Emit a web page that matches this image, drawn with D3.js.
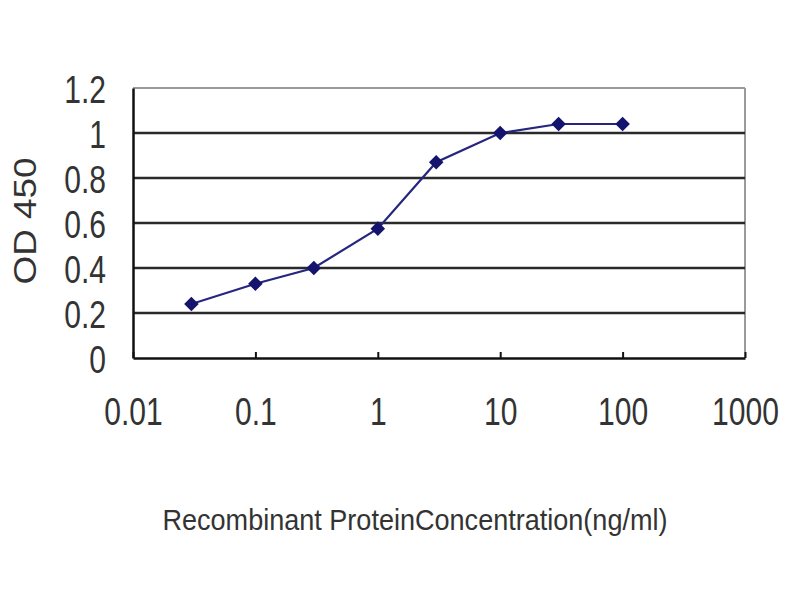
<!DOCTYPE html>
<html><head><meta charset="utf-8">
<script src="https://cdn.jsdelivr.net/npm/d3@7"></script>
<style>html,body{margin:0;padding:0;background:#fff;}</style>
</head><body>
<svg id="chart" width="800" height="600"></svg>
<script>
const concentrations = [0.03, 0.1, 0.3, 1, 3, 10, 30, 100];
const od450 = [0.24, 0.33, 0.40, 0.575, 0.87, 1.00, 1.04, 1.04];
const xTickValues = [0.01, 0.1, 1, 10, 100, 1000];
const xTickLabels = ["0.01", "0.1", "1", "10", "100", "1000"];
const yTickValues = [0, 0.2, 0.4, 0.6, 0.8, 1, 1.2];
const yTickLabels = ["0", "0.2", "0.4", "0.6", "0.8", "1", "1.2"];
const xTitle = "Recombinant ProteinConcentration(ng/ml)";
const yTitle = "OD 450";

const svg = d3.select("#chart");
const L = 133, R = 745, T = 88, B = 358;
const x = d3.scaleLog().domain([0.01, 1000]).range([L, R]);
const y = d3.scaleLinear().domain([0, 1.2]).range([B, T]);
const font = "'Liberation Sans',Arial,sans-serif";
const squeeze = 0.77;

// plot border (light) top/right
svg.append("line").attr("x1", L).attr("x2", R).attr("y1", T).attr("y2", T)
  .attr("stroke", "#9a9a9a").attr("stroke-width", 2);
svg.append("line").attr("x1", R).attr("x2", R).attr("y1", T).attr("y2", B)
  .attr("stroke", "#9a9a9a").attr("stroke-width", 2);

// gridlines
svg.append("g").selectAll("line").data(yTickValues.filter(v => v > 0 && v < 1.2)).join("line")
  .attr("x1", L).attr("x2", R).attr("y1", d => y(d)).attr("y2", d => y(d))
  .attr("stroke", "#2a2a2a").attr("stroke-width", 2.5);

// axes
const yAxis = d3.axisLeft(y).tickValues(yTickValues).tickFormat((d, i) => yTickLabels[i]).tickSize(0);
const gy = svg.append("g").attr("transform", `translate(${L},0)`).call(yAxis);
gy.select(".domain").attr("stroke", "#111").attr("stroke-width", 2.5);
gy.selectAll("text").attr("x", 0).attr("dy", "0.36em").attr("text-anchor", "end")
  .attr("transform", `translate(-27,0) scale(${squeeze},1)`)
  .attr("font-family", font).attr("font-size", 39).attr("fill", "#333");

const xAxis = d3.axisBottom(x).tickValues(xTickValues).tickFormat((d, i) => xTickLabels[i]).tickSizeInner(-6).tickSizeOuter(0);
const gx = svg.append("g").attr("transform", `translate(0,${B})`).call(xAxis);
gx.select(".domain").attr("stroke", "#111").attr("stroke-width", 2.5);
gx.selectAll(".tick line").attr("stroke", "#111").attr("stroke-width", 2);
gx.selectAll("text").attr("y", 0).attr("dy", 0)
  .attr("transform", `translate(0,67) scale(${squeeze},1)`)
  .attr("font-family", font).attr("font-size", 39).attr("fill", "#333");

// line
const line = d3.line().x((d, i) => x(concentrations[i])).y(d => y(d));
svg.append("path").datum(od450).attr("d", line).attr("fill", "none")
  .attr("stroke", "#262680").attr("stroke-width", 2.2);

// markers
svg.append("g").selectAll("path").data(od450).join("path")
  .attr("transform", (d, i) => `translate(${x(concentrations[i])},${y(d)})`)
  .attr("d", d3.symbol(d3.symbolDiamond2, 135)())
  .attr("fill", "#14146e");

// titles
svg.append("text").attr("transform", "translate(36,221) rotate(-90)")
  .attr("text-anchor", "middle").attr("font-family", font).attr("font-size", 32)
  .attr("fill", "#333").attr("textLength", 127).attr("lengthAdjust", "spacingAndGlyphs").text(yTitle);
svg.append("text").attr("x", 415).attr("y", 530).attr("text-anchor", "middle")
  .attr("font-family", font).attr("font-size", 30).attr("fill", "#333")
  .attr("textLength", 505).attr("lengthAdjust", "spacingAndGlyphs").text(xTitle);
</script>
</body></html>
